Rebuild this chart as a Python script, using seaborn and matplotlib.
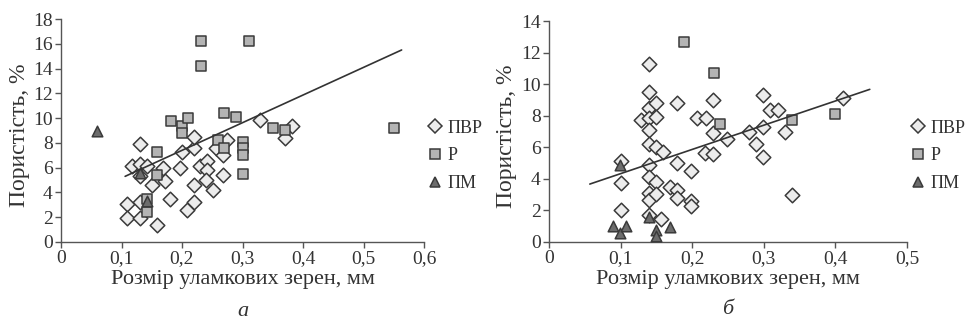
import matplotlib
matplotlib.use("Agg")
import matplotlib.pyplot as plt
import seaborn as sns
from matplotlib.lines import Line2D
from matplotlib.ticker import FuncFormatter

# --- panel а ---
a_pvr_x = [0.109, 0.109, 0.118, 0.13, 0.13, 0.13, 0.13, 0.13, 0.142, 0.15, 0.159, 0.169,
           0.172, 0.18, 0.197, 0.2, 0.209, 0.22, 0.22, 0.22, 0.22, 0.23, 0.241, 0.241,
           0.24, 0.251, 0.257, 0.268, 0.268, 0.274, 0.329, 0.37, 0.381]
a_pvr_y = [3.1, 1.9, 6.1, 6.3, 7.9, 5.3, 3.2, 1.9, 6.1, 4.6, 1.4, 5.95,
           4.95, 3.5, 5.95, 7.3, 2.6, 3.2, 4.6, 7.6, 8.5, 6.1, 6.5, 5.8,
           5.0, 4.2, 7.6, 7.0, 5.4, 8.2, 9.85, 8.4, 9.35]
a_r_x = [0.142, 0.142, 0.159, 0.159, 0.181, 0.2, 0.2, 0.21, 0.232, 0.232, 0.26, 0.269,
         0.269, 0.29, 0.3, 0.3, 0.3, 0.3, 0.311, 0.35, 0.37, 0.55]
a_r_y = [3.45, 2.45, 5.4, 7.3, 9.8, 9.35, 8.8, 10.0, 16.25, 14.2, 8.25, 10.4,
         7.55, 10.05, 8.1, 7.55, 7.0, 5.5, 16.25, 9.2, 9.05, 9.2]
a_pm_x = [0.06, 0.13, 0.142]
a_pm_y = [9.0, 5.6, 3.3]
a_trend_x = [0.106, 0.563]
a_trend_y = [5.3, 15.5]

# --- panel б ---
b_pvr_x = [0.1, 0.1, 0.1, 0.129, 0.139, 0.139, 0.139, 0.139, 0.139, 0.139, 0.139, 0.139,
           0.139, 0.139, 0.139, 0.149, 0.15, 0.15, 0.15, 0.15, 0.159, 0.157, 0.169, 0.179,
           0.179, 0.179, 0.179, 0.199, 0.199, 0.199, 0.207, 0.219, 0.218, 0.229, 0.229, 0.229,
           0.249, 0.279, 0.289, 0.299, 0.299, 0.299, 0.309, 0.32, 0.33, 0.339, 0.41]
b_pvr_y = [5.1, 3.75, 2.0, 7.75, 11.25, 9.5, 8.5, 7.85, 7.1, 6.2, 4.88, 4.1,
           3.08, 2.66, 1.7, 8.82, 7.9, 6.0, 3.8, 3.04, 5.7, 1.43, 3.46, 8.78,
           5.0, 3.3, 2.77, 4.5, 2.6, 2.28, 7.83, 7.83, 5.66, 9.0, 6.9, 5.55,
           6.5, 7.0, 6.2, 9.3, 7.3, 5.4, 8.35, 8.35, 6.95, 3.0, 9.1]
b_r_x = [0.189, 0.23, 0.239, 0.34, 0.4]
b_r_y = [12.65, 10.7, 7.45, 7.75, 8.1]
b_pm_x = [0.099, 0.089, 0.099, 0.108, 0.139, 0.149, 0.149, 0.169]
b_pm_y = [4.9, 1.0, 0.6, 1.0, 1.58, 0.76, 0.38, 0.97]
b_trend_x = [0.057, 0.448]
b_trend_y = [3.67, 9.67]

labels = ["ПВР", "Р", "ПМ"]
captions = ["а", "б"]

sns.set_theme(style="ticks")
plt.rcParams['font.family'] = 'serif'
plt.rcParams['font.serif'] = ['Liberation Serif', 'Times New Roman', 'DejaVu Serif']

EDGE = "#3a3a3a"
styles = [
    dict(marker="D", s=55, color="#ececec"),
    dict(marker="s", s=55, color="#b4b4b4"),
    dict(marker="^", s=58, color="#6c6c6c"),
]

fig = plt.figure(figsize=(9.65, 3.22), dpi=100)
ax_a = fig.add_axes([61 / 965, 80 / 322, 363 / 965, 223 / 322])
ax_b = fig.add_axes([549 / 965, 80 / 322, 358 / 965, 221 / 322])

panels = [
    (ax_a, [(a_pvr_x, a_pvr_y), (a_r_x, a_r_y), (a_pm_x, a_pm_y)], a_trend_x, a_trend_y,
     0.6, 18, 2, 0.1),
    (ax_b, [(b_pvr_x, b_pvr_y), (b_r_x, b_r_y), (b_pm_x, b_pm_y)], b_trend_x, b_trend_y,
     0.5, 14, 2, 0.1),
]


def comma(v, pos):
    if abs(v) < 1e-9:
        return "0"
    return f"{v:.1f}".replace(".", ",")


for i, (ax, series, tx, ty, xmax, ymax, ystep, xstep) in enumerate(panels):
    for (xs, ys), st in zip(series, styles):
        sns.scatterplot(x=xs, y=ys, ax=ax, marker=st["marker"], s=st["s"],
                        color=st["color"], edgecolor=EDGE, linewidth=1.1, zorder=3)
    sns.lineplot(x=tx, y=ty, ax=ax, color="#333333", linewidth=1.2, zorder=4)
    ax.set_xlim(0, xmax)
    ax.set_ylim(0, ymax)
    ax.set_xticks([round(k * xstep, 2) for k in range(int(round(xmax / xstep)) + 1)])
    ax.set_yticks(list(range(0, ymax + 1, ystep)))
    ax.xaxis.set_major_formatter(FuncFormatter(comma))
    sns.despine(ax=ax)
    for sp in ["left", "bottom"]:
        ax.spines[sp].set_color("#555555")
        ax.spines[sp].set_linewidth(1.0)
    ax.tick_params(direction="out", length=4, width=1, color="#555555",
                   labelsize=14, labelcolor="#333333", pad=2)
    ax.set_xlabel("Розмір уламкових зерен, мм", fontsize=16, color="#333333")
    ax.set_ylabel("Пористість, %", fontsize=17, color="#333333")
    ax.xaxis.set_label_coords(0.5, -0.125)
    ax.yaxis.set_label_coords(-0.085 if i == 0 else -0.09, 0.48)
    ax.xaxis.label.set_va("top")

    handles = [Line2D([], [], linestyle="none", marker=st["marker"],
                      markersize=7 if st["marker"] != "D" else 6.8,
                      markerfacecolor=st["color"], markeredgecolor=EDGE,
                      markeredgewidth=1.1) for st in styles]
    anchor_x = 428 / 965 if i == 0 else 911 / 965
    ax.legend(handles, labels, loc="center left",
              bbox_to_anchor=(anchor_x, 1 - 156 / 322), bbox_transform=fig.transFigure,
              frameon=False, fontsize=13, handlelength=0.8, handletextpad=0.3,
              labelspacing=0.6, borderaxespad=0, borderpad=0,
              labelcolor="#333333")

fig.text(243 / 965, 1 - 311 / 322, captions[0], fontsize=16, style="italic",
         ha="center", va="center", color="#333333")
fig.text(728 / 965, 1 - 310 / 322, captions[1], fontsize=16, style="italic",
         ha="center", va="center", color="#333333")

fig.savefig("out.png", dpi=100)
